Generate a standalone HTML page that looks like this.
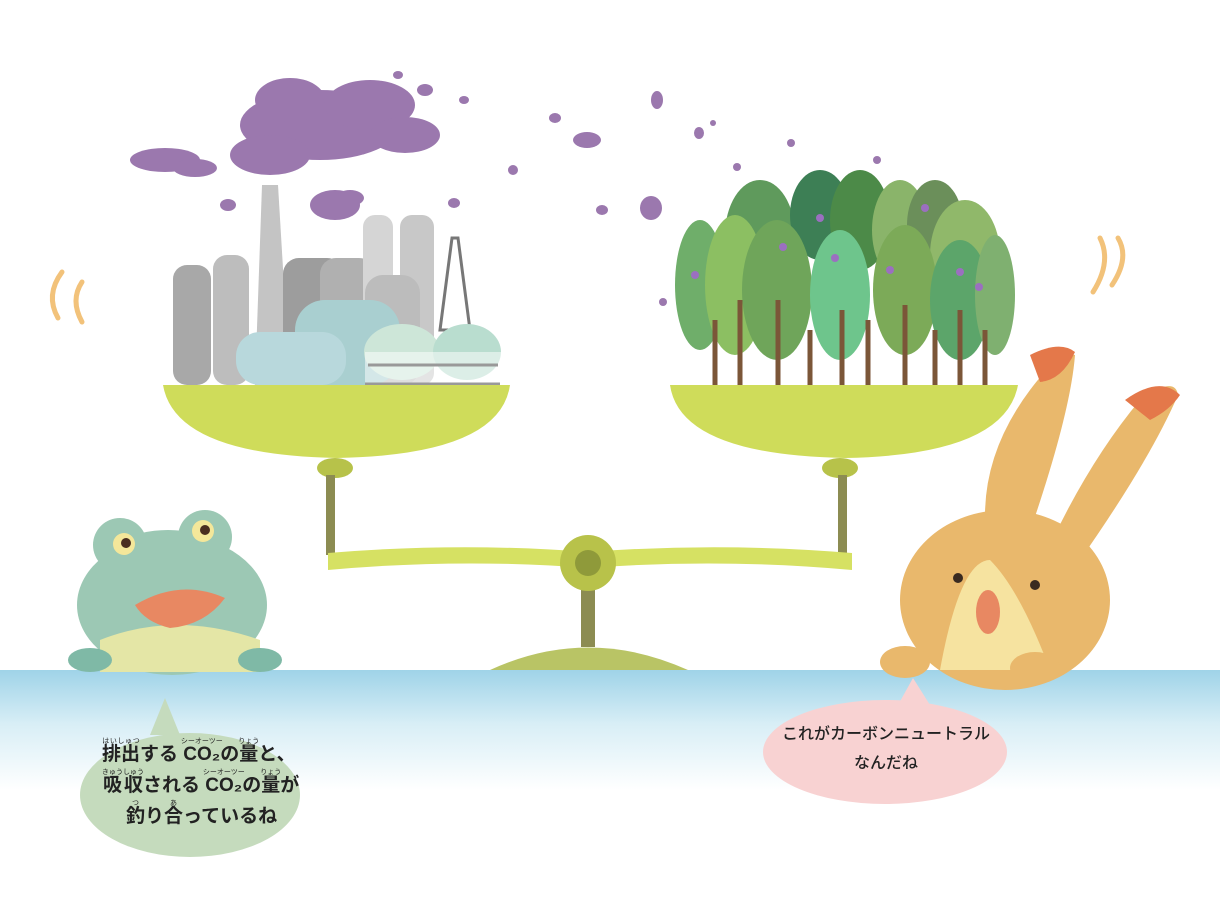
<!DOCTYPE html>
<html><head><meta charset="utf-8"><style>
html,body{margin:0;padding:0;background:#fff;}
body{width:1220px;height:904px;overflow:hidden;position:relative;font-family:"Liberation Sans","Noto Sans CJK JP",sans-serif;}
svg{position:absolute;left:0;top:0;}
.t{position:absolute;font-family:"Liberation Sans","Noto Sans CJK JP",sans-serif;font-weight:bold;color:#222;}
rt{font-size:7px;font-weight:normal;}
</style></head><body>
<svg width="1220" height="904" viewBox="0 0 1220 904">
<defs>
<linearGradient id="sea" x1="0" y1="0" x2="0" y2="1">
<stop offset="0" stop-color="#9fd3e8"/><stop offset="0.45" stop-color="#d8eef6"/><stop offset="1" stop-color="#ffffff"/>
</linearGradient>
</defs>
<rect x="0" y="670" width="1220" height="120" fill="url(#sea)"/>
<g fill="#9b78ae">
<ellipse cx="320" cy="125" rx="80" ry="35"/><ellipse cx="290" cy="100" rx="35" ry="22"/><ellipse cx="370" cy="105" rx="45" ry="25"/>
<ellipse cx="405" cy="135" rx="35" ry="18"/><ellipse cx="270" cy="155" rx="40" ry="20"/>
<ellipse cx="165" cy="160" rx="35" ry="12"/><ellipse cx="195" cy="168" rx="22" ry="9"/>
<ellipse cx="335" cy="205" rx="25" ry="15"/><ellipse cx="350" cy="198" rx="14" ry="8"/>
<ellipse cx="228" cy="205" rx="8" ry="6"/>
<ellipse cx="425" cy="90" rx="8" ry="6"/><ellipse cx="398" cy="75" rx="5" ry="4"/><ellipse cx="464" cy="100" rx="5" ry="4"/>
<ellipse cx="587" cy="140" rx="14" ry="8"/><ellipse cx="555" cy="118" rx="6" ry="5"/><ellipse cx="657" cy="100" rx="6" ry="9"/>
<ellipse cx="513" cy="170" rx="5" ry="5"/><ellipse cx="602" cy="210" rx="6" ry="5"/><ellipse cx="651" cy="208" rx="11" ry="12"/>
<ellipse cx="699" cy="133" rx="5" ry="6"/><ellipse cx="713" cy="123" rx="3" ry="3"/><ellipse cx="737" cy="167" rx="4" ry="4"/>
<ellipse cx="791" cy="143" rx="4" ry="4"/><ellipse cx="877" cy="160" rx="4" ry="4"/><ellipse cx="454" cy="203" rx="6" ry="5"/>
<ellipse cx="663" cy="302" rx="4" ry="4"/><ellipse cx="730" cy="225" rx="6" ry="6"/>
</g>
<g>
<rect x="173" y="265" width="38" height="120" rx="14" fill="#a8a8a8"/>
<rect x="213" y="255" width="36" height="130" rx="14" fill="#bdbdbd"/>
<polygon points="255,385 262,185 278,185 290,385" fill="#c4c4c4"/>
<rect x="283" y="258" width="60" height="127" rx="16" fill="#9d9d9d"/>
<rect x="320" y="258" width="55" height="127" rx="16" fill="#b0b0b0"/>
<rect x="363" y="215" width="30" height="170" rx="12" fill="#d5d5d5"/>
<rect x="400" y="215" width="34" height="170" rx="12" fill="#c8c8c8"/>
<rect x="365" y="275" width="55" height="110" rx="18" fill="#bcbcbc"/>
<polygon points="440,330 452,238 458,238 470,330" fill="none" stroke="#777" stroke-width="3"/>
<rect x="295" y="300" width="105" height="85" rx="30" fill="#a9cfd0"/>
<rect x="236" y="332" width="110" height="53" rx="24" fill="#b8d8dc"/>
<ellipse cx="402" cy="352" rx="38" ry="28" fill="#cde6d8"/>
<ellipse cx="467" cy="352" rx="34" ry="28" fill="#b9ddcf"/>
<rect x="365" y="352" width="136" height="32" fill="#fff" opacity="0.5"/>
<path d="M365 384 L500 384 M368 365 L498 365" stroke="#999" stroke-width="3"/>
</g>
<g>
<ellipse cx="760" cy="235" rx="35" ry="55" fill="#5f9a5c"/>
<ellipse cx="820" cy="215" rx="30" ry="45" fill="#3d7f55"/>
<ellipse cx="860" cy="220" rx="30" ry="50" fill="#4c8a48"/>
<ellipse cx="900" cy="230" rx="28" ry="50" fill="#8ab46a"/>
<ellipse cx="935" cy="225" rx="28" ry="45" fill="#6b8f5a"/>
<ellipse cx="965" cy="255" rx="35" ry="55" fill="#90b86a"/>
<ellipse cx="700" cy="285" rx="25" ry="65" fill="#6fae6a"/>
<ellipse cx="735" cy="285" rx="30" ry="70" fill="#8cbf62"/>
<ellipse cx="777" cy="290" rx="35" ry="70" fill="#6fa55a"/>
<ellipse cx="840" cy="295" rx="30" ry="65" fill="#6ec58c"/>
<ellipse cx="905" cy="290" rx="32" ry="65" fill="#7caa58"/>
<ellipse cx="960" cy="300" rx="30" ry="60" fill="#5ca56a"/>
<ellipse cx="995" cy="295" rx="20" ry="60" fill="#7fb070"/>
<g stroke="#7b5638" stroke-width="5"><path d="M715 385V320M740 385V300M778 385V300M810 385V330M842 385V310M868 385V320M905 385V305M935 385V330M960 385V310M985 385V330"/></g>
<g fill="#9b6fc0"><circle cx="783" cy="247" r="4"/><circle cx="820" cy="218" r="4"/><circle cx="835" cy="258" r="4"/><circle cx="925" cy="208" r="4"/><circle cx="960" cy="272" r="4"/><circle cx="890" cy="270" r="4"/><circle cx="979" cy="287" r="4"/><circle cx="695" cy="275" r="4"/></g>
</g>
<g>
<path d="M163 385 L510 385 Q500 455 337 458 Q175 455 163 385Z" fill="#cfdc5a"/>
<path d="M670 385 L1018 385 Q1005 455 845 458 Q680 455 670 385Z" fill="#cfdc5a"/>
<ellipse cx="335" cy="468" rx="18" ry="10" fill="#b7c24a"/><ellipse cx="840" cy="468" rx="18" ry="10" fill="#b7c24a"/>
<rect x="326" y="475" width="9" height="80" fill="#8c8c52"/><rect x="838" y="475" width="9" height="80" fill="#8c8c52"/>
<path d="M328 553 Q460 542 588 552 Q720 542 852 553 L852 570 Q720 558 588 568 Q460 558 328 570Z" fill="#d6e163"/>
<rect x="581" y="585" width="14" height="62" fill="#8c8c52"/>
<circle cx="588" cy="563" r="28" fill="#b8c24a"/><circle cx="588" cy="563" r="13" fill="#8f9a3a"/>
<path d="M490 670 Q588 625 688 670Z" fill="#b9c465"/>
</g>
<g fill="none" stroke="#f2c27a" stroke-width="5" stroke-linecap="round">
<path d="M62 272 Q45 295 58 318"/><path d="M82 282 Q70 300 82 322"/>
<path d="M1100 238 Q1112 262 1093 292"/><path d="M1118 238 Q1130 258 1112 285"/>
</g>
<g>
<ellipse cx="172" cy="605" rx="95" ry="70" fill="#9cc8b4"/>
<ellipse cx="168" cy="570" rx="70" ry="40" fill="#9cc8b4"/>
<circle cx="120" cy="545" r="27" fill="#9cc8b4"/><circle cx="205" cy="537" r="27" fill="#9cc8b4"/>
<circle cx="124" cy="544" r="11" fill="#f4e79a"/><circle cx="126" cy="543" r="5" fill="#4a2e20"/>
<circle cx="203" cy="531" r="11" fill="#f4e79a"/><circle cx="205" cy="530" r="5" fill="#4a2e20"/>
<path d="M100 640 Q175 610 260 640 L260 672 L100 672Z" fill="#e4e6a6"/>
<path d="M135 605 Q180 578 225 598 Q205 625 170 628 Q145 622 135 605Z" fill="#e88862"/>
<ellipse cx="90" cy="660" rx="22" ry="12" fill="#7fb9a6"/><ellipse cx="260" cy="660" rx="22" ry="12" fill="#7fb9a6"/>
</g>
<g>
<path d="M990 560 Q970 470 1030 390 Q1060 350 1075 355 Q1070 420 1020 560Z" fill="#e9b86c"/>
<path d="M1050 545 Q1090 460 1140 400 Q1175 375 1178 395 Q1150 460 1080 560Z" fill="#e9b86c"/>
<path d="M1030 355 Q1060 340 1075 352 Q1062 380 1040 382Z" fill="#e4784a"/>
<path d="M1125 400 Q1160 375 1180 395 Q1170 410 1150 420Z" fill="#e4784a"/>
<ellipse cx="1005" cy="600" rx="105" ry="90" fill="#e9b86c"/>
<path d="M940 670 Q960 560 990 560 Q1020 590 1050 670Z" fill="#f6e3a0"/>
<circle cx="958" cy="578" r="5" fill="#3a2a20"/><circle cx="1035" cy="585" r="5" fill="#3a2a20"/>
<ellipse cx="988" cy="612" rx="12" ry="22" fill="#e88862"/>
<ellipse cx="905" cy="662" rx="25" ry="16" fill="#e9b86c"/><ellipse cx="1035" cy="668" rx="25" ry="16" fill="#e9b86c"/>
</g>
<path d="M150 735 L165 698 L180 735Z" fill="#c5dbbd"/>
<ellipse cx="190" cy="795" rx="110" ry="62" fill="#c5dbbd"/>
<path d="M898 705 L913 678 L930 705Z" fill="#f8d2d2"/>
<ellipse cx="885" cy="752" rx="122" ry="52" fill="#f8d2d2"/>
</svg>
<div class="t" style="left:102px;top:738px;font-size:19px;line-height:31px;">
<ruby>排出<rt>はいしゅつ</rt></ruby>する <ruby>CO₂<rt>シーオーツー</rt></ruby>の<ruby>量<rt>りょう</rt></ruby>と、<br>
<ruby>吸収<rt>きゅうしゅう</rt></ruby>される <ruby>CO₂<rt>シーオーツー</rt></ruby>の<ruby>量<rt>りょう</rt></ruby>が<br>
<span style="padding-left:24px"><ruby>釣<rt>つ</rt></ruby>り<ruby>合<rt>あ</rt></ruby>っているね</span></div>
<div class="t" style="left:770px;top:720px;width:232px;text-align:center;font-size:16px;line-height:29px;font-weight:500;">これがカーボンニュートラル<br>なんだね</div>
</body></html>
